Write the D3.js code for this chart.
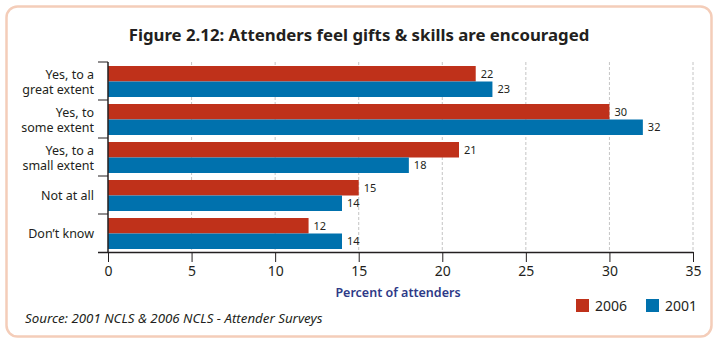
<!DOCTYPE html>
<html>
<head>
<meta charset="utf-8">
<script src="https://cdn.jsdelivr.net/npm/d3@7"></script>
<style>
  body { margin: 0; background: #fff; }
  svg { display: block; font-family: "Noto Sans", sans-serif; }
</style>
</head>
<body>
<script>
// Chart data
const categories = [
  ["Yes, to a", "great extent"],
  ["Yes, to", "some extent"],
  ["Yes, to a", "small extent"],
  ["Not at all"],
  ["Don\u2019t know"]
];
const years = ["2006", "2001"];
const values2006 = [22, 30, 21, 15, 12];
const values2001 = [23, 32, 18, 14, 14];
const xTicks = [0, 5, 10, 15, 20, 25, 30, 35];

const colors = { "2006": "#bf311a", "2001": "#0071ad" };

const width = 718;
const height = 343;
const margin = { top: 62, right: 25, bottom: 91, left: 108 };
const innerWidth = 693 - margin.left;
const innerHeight = height - margin.top - margin.bottom;

const svg = d3.select("body")
  .append("svg")
  .attr("width", width)
  .attr("height", height);

// Rounded frame
svg.append("rect")
  .attr("x", 6.5)
  .attr("y", 6.5)
  .attr("width", 705)
  .attr("height", 330)
  .attr("rx", 11)
  .attr("fill", "none")
  .attr("stroke", "#f4cdb9")
  .attr("stroke-width", 2.5);

// Title
svg.append("text")
  .attr("x", 359)
  .attr("y", 41)
  .attr("text-anchor", "middle")
  .attr("font-size", 16.8)
  .attr("font-weight", "bold")
  .attr("fill", "#231f20")
  .text("Figure 2.12: Attenders feel gifts & skills are encouraged");

const g = svg.append("g")
  .attr("transform", `translate(${margin.left},${margin.top})`);

const xScale = d3.scaleLinear()
  .domain([0, 35])
  .range([0, innerWidth]);

const yScale = d3.scaleBand()
  .domain(d3.range(categories.length))
  .range([0, innerHeight]);

const subScale = d3.scaleBand()
  .domain(years)
  .range([4, yScale.bandwidth() - 3]);

// Dashed grid lines
g.append("g")
  .selectAll("line")
  .data(xTicks.slice(1))
  .enter()
  .append("line")
  .attr("x1", d => xScale(d))
  .attr("x2", d => xScale(d))
  .attr("y1", 0)
  .attr("y2", innerHeight)
  .attr("stroke", "#b5b5b5")
  .attr("stroke-width", 0.8)
  .attr("stroke-dasharray", "3,2");

// Bars
const rows = categories.map((c, i) => ({
  i,
  bars: [
    { year: "2006", value: values2006[i] },
    { year: "2001", value: values2001[i] }
  ]
}));

const groups = g.selectAll(".row")
  .data(rows)
  .enter()
  .append("g")
  .attr("transform", d => `translate(0,${yScale(d.i)})`);

groups.selectAll("rect")
  .data(d => d.bars)
  .enter()
  .append("rect")
  .attr("x", 0)
  .attr("y", d => subScale(d.year))
  .attr("width", d => xScale(d.value))
  .attr("height", subScale.bandwidth())
  .attr("fill", d => colors[d.year]);

groups.selectAll("text")
  .data(d => d.bars)
  .enter()
  .append("text")
  .attr("x", d => xScale(d.value) + 5)
  .attr("y", d => subScale(d.year) + subScale.bandwidth() / 2 + 4)
  .attr("font-size", 11)
  .attr("fill", "#231f20")
  .text(d => d.value);

// X axis
const xAxis = d3.axisBottom(xScale)
  .tickValues(xTicks)
  .tickSize(10)
  .tickSizeOuter(0)
  .tickPadding(4);

const xg = g.append("g")
  .attr("transform", `translate(0,${innerHeight})`)
  .call(xAxis);
xg.select(".domain").attr("d", `M-10,0.5H${innerWidth + 0.5}`).attr("stroke", "#231f20").attr("stroke-width", 1.5);
xg.selectAll(".tick line").attr("stroke", "#231f20");
xg.selectAll(".tick text")
  .attr("font-size", 14)
  .attr("font-family", "Noto Sans, sans-serif")
  .attr("fill", "#231f20");

// Y axis: ticks at category boundaries
const yAxisG = g.append("g");
yAxisG.append("line")
  .attr("x1", 0).attr("x2", 0)
  .attr("y1", 0).attr("y2", innerHeight)
  .attr("stroke", "#231f20")
  .attr("stroke-width", 1.5);
yAxisG.selectAll(".ytick")
  .data(d3.range(categories.length))
  .enter()
  .append("line")
  .attr("x1", -10).attr("x2", 0)
  .attr("y1", d => yScale(d))
  .attr("y2", d => yScale(d))
  .attr("stroke", "#231f20");

// Category labels
const labels = yAxisG.selectAll(".ylabel")
  .data(categories)
  .enter()
  .append("text")
  .attr("text-anchor", "end")
  .attr("font-size", 12.5)
  .attr("fill", "#231f20")
  .attr("y", (d, i) => yScale(i) + yScale.bandwidth() / 2 + 5 - (d.length - 1) * 7.5);

labels.selectAll("tspan")
  .data(d => d)
  .enter()
  .append("tspan")
  .attr("x", -14)
  .attr("dy", (d, i) => i === 0 ? 0 : 15)
  .text(d => d);

// Axis title
svg.append("text")
  .attr("x", 398)
  .attr("y", 297)
  .attr("text-anchor", "middle")
  .attr("font-size", 12.5)
  .attr("font-weight", 600)
  .attr("fill", "#2e3a87")
  .text("Percent of attenders");

// Source note
svg.append("text")
  .attr("x", 25)
  .attr("y", 323)
  .attr("font-size", 13.3)
  .attr("font-style", "italic")
  .attr("fill", "#231f20")
  .text("Source: 2001 NCLS & 2006 NCLS - Attender Surveys");

// Legend
const legend = svg.append("g")
  .selectAll("g")
  .data(years)
  .enter()
  .append("g")
  .attr("transform", (d, i) => `translate(${576 + i * 70},299)`);

legend.append("rect")
  .attr("width", 13)
  .attr("height", 13)
  .attr("fill", d => colors[d]);

legend.append("text")
  .attr("x", 19)
  .attr("y", 12)
  .attr("font-size", 14)
  .attr("fill", "#231f20")
  .text(d => d);
</script>
</body>
</html>
